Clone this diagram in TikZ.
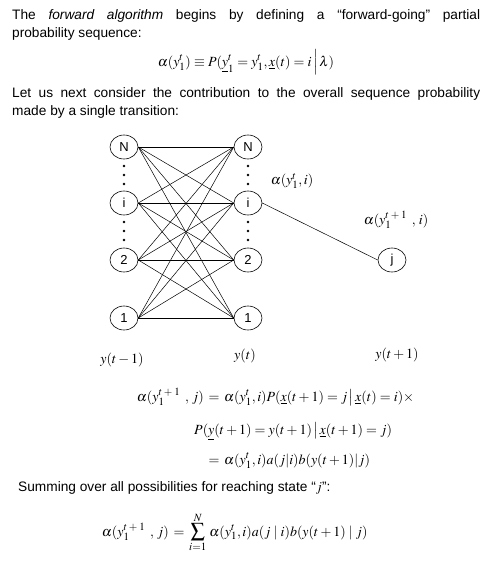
\documentclass[tikz,border=0pt]{standalone}
\usepackage[no-math]{fontspec}
\usepackage{mathptmx}
\setmainfont{Liberation Sans}
\DeclareMathSizes{14}{14}{11}{9}
\usetikzlibrary{shapes.geometric}
\newcommand{\tpo}{t\mkern3mu+\mkern3mu1}
\newcommand{\alnext}[1]{\alpha(y_1^{\tpo}\mkern6mu,\mkern2mu #1)}
\begin{document}
\begin{tikzpicture}[x=1pt,y=-1pt,
  state/.style={ellipse, draw, line width=0.6pt, fill=white, minimum width=28pt, minimum height=24pt, inner sep=0pt, font=\fontsize{13}{15}\selectfont},
  txt/.style={inner sep=0pt, anchor=base west, font=\fontsize{13.7}{16}\selectfont},
  eq/.style={inner sep=0pt, font=\fontsize{14}{16}\selectfont},
  edge/.style={line width=0.5pt},
  dotm/.style={circle, fill=black, inner sep=0pt, minimum size=2.6pt}]
\useasboundingbox (0,0) rectangle (490,563);
% text
\node[txt] (p1) at (12,19) {\makebox[468pt][s]{The \emph{forward algorithm} begins by defining a “forward-going” partial}};
\node[txt] (p2) at (12,37) {probability sequence:};
\node[eq, anchor=base] (f1) at (246,66) {$\alpha(y_1^t) \equiv P(\underline{y}_1^t = y_1^t,\underline{x}(t) = i\,\Big|\,\lambda)$};
\node[txt] (p3) at (12,97) {\makebox[468pt][s]{Let us next consider the contribution to the overall sequence probability}};
\node[txt] (p4) at (12,115) {made by a single transition:};
% states
\node[state] (LN) at (124,147) {N};
\node[state] (Li) at (124,203) {i};
\node[state] (L2) at (124,260) {2};
\node[state] (L1) at (124,318) {1};
\node[state] (RN) at (248,147) {N};
\node[state] (Ri) at (248,203) {i};
\node[state] (R2) at (248,260) {2};
\node[state] (R1) at (248,318) {1};
\node[state] (j) at (392,260) {j};
\foreach \a in {N,i,2,1}{
  \foreach \b in {N,i,2,1}{
    \draw[edge] (L\a.east) -- (R\b.west);
  }
}
\draw[edge] (Ri.east) -- (j.west);
% dots
\foreach \xx in {124,248}{
  \foreach \yy in {166,175,184,222,231,240}{
    \node[dotm] at (\xx,\yy) {};
  }
}
% labels
\node[eq] (la) at (292,181) {$\alpha(y_1^t,i)$};
\node[eq] (lb) at (396,220) {$\alnext{i}$};
\node[eq] (y1) at (122,360) {$y(t-1)$};
\node[eq] (y2) at (245,356) {$y(t)$};
\node[eq] (y3) at (397,355) {$y(t+1)$};
% equations
\node[eq, anchor=base east] (e1l) at (204,401) {$\alnext{j}$};
\node[eq, anchor=base] (e1m) at (214,401) {$=$};
\node[eq, anchor=base west] (e1r) at (224,401) {$\alpha(y_1^t,i)P(\underline{x}(t+1) = j\,\big|\,\underline{x}(t) = i)\times$};
\node[eq, anchor=base west] (e2) at (194,434) {$P(\underline{y}(t+1) = y(t+1)\,\big|\,\underline{x}(t+1) = j)$};
\node[eq, anchor=base] (e3m) at (214,464) {$=$};
\node[eq, anchor=base west] (e3r) at (224,464) {$\alpha(y_1^t,i)a(j|i)b(y(t+1)|j)$};
\node[txt] (p5) at (18,491) {Summing over all possibilities for reaching state “$j$”:};
\node[eq, anchor=base east] (e4l) at (169,536) {$\alnext{j}$};
\node[eq, anchor=base] (e4m) at (179,536) {$=$};
\node[eq, anchor=base west] (e4r) at (189,536) {$\displaystyle\sum_{i=1}^{N}\,\alpha(y_1^t,i)a(j\mid i)b(y(t+1)\mid j)$};
\end{tikzpicture}
\end{document}
